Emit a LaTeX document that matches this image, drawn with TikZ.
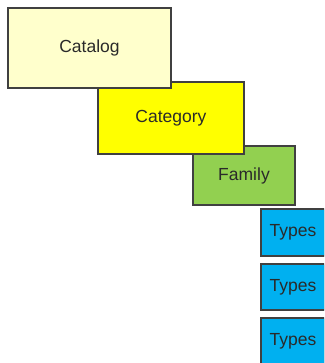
\documentclass[tikz,border=0pt]{standalone}
\usepackage{fontspec}
\setmainfont{Liberation Sans}
\usetikzlibrary{shadows}
\definecolor{boxline}{HTML}{404040}
\definecolor{labeltext}{HTML}{2A2A2A}
\definecolor{catalogfill}{HTML}{FFFFCC}
\definecolor{categoryfill}{HTML}{FFFF00}
\definecolor{familyfill}{HTML}{92D050}
\definecolor{typesfill}{HTML}{00B0F0}

\begin{document}
\begin{tikzpicture}[x=1pt,y=-1pt,
		box/.style={draw=boxline,line width=1.2pt,text=labeltext,inner sep=0pt,
			font=\fontsize{17.5}{20}\selectfont,
			drop shadow={shadow xshift=1.2pt,shadow yshift=-1.2pt,opacity=0.35,fill=black}}]
		\useasboundingbox (0,0) rectangle (324,363);
		\clip (0,0) rectangle (324,363);
		% lowest level first, so every upper box lies over the one below
		\node[box,fill=typesfill,minimum width=64pt,minimum height=47pt] (types3) at (293,341.5) {Types};
		\node[box,fill=typesfill,minimum width=64pt,minimum height=46pt] (types2) at (293,287) {Types};
		\node[box,fill=typesfill,minimum width=64pt,minimum height=47pt] (types1) at (293,232.5) {Types};
		\node[box,fill=familyfill,minimum width=102pt,minimum height=59pt] (family) at (244,175.5) {Family};
		\node[box,fill=categoryfill,minimum width=146pt,minimum height=72pt] (category) at (171,118) {Category};
		\node[box,fill=catalogfill,minimum width=163pt,minimum height=80pt] (catalog) at (89.5,48) {Catalog};
	\end{tikzpicture}
\end{document}
